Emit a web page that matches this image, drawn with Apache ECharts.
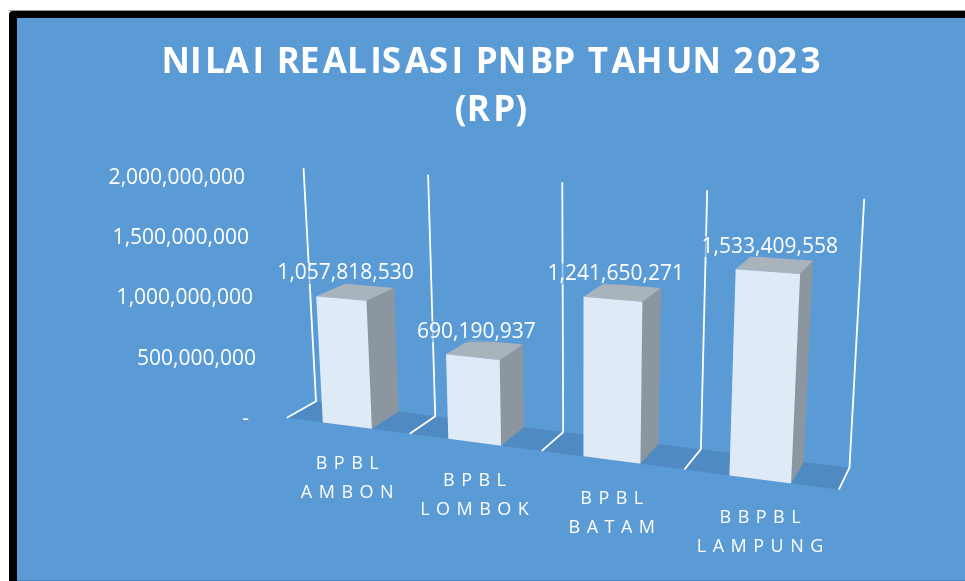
<!DOCTYPE html>
<html><head><meta charset="utf-8">
<script src="https://cdn.jsdelivr.net/npm/echarts@6/dist/echarts.min.js"></script>
<style>html,body{margin:0;padding:0;background:#fff}#c{width:965px;height:581px}</style>
</head><body><div id="c"></div>
<script>
// ---- data ----
const categories = ['BPBL\nAMBON', 'BPBL\nLOMBOK', 'BPBL\nBATAM', 'BBPBL\nLAMPUNG'];
const values = [1057818530, 690190937, 1241650271, 1533409558];
const yTicks = [0, 500000000, 1000000000, 1500000000, 2000000000];
const titleText = 'NILAI REALISASI PNBP TAHUN 2023\n(RP)';

// ---- layout / style ----
const BG = '#5B9BD5', FLOOR = '#508AC3', FRONT = '#DEEAF6', SIDE = '#8C969F', TOP = '#A9B3BC';
const FONT = '"Open Sans", "Noto Sans", sans-serif';
const GAP = 0.3; // fraction of category on each side of bar
// camera calibration of the 3D frame: [u (category boundary), t (0..1 of axis), d (0 front,1 back), x, y]
const frame = [
  [0,0,1,315.7,401.7],[1,0,1,435.7,415.7],[2,0,1,562.7,431.7],[3,0,1,701.7,450],[4,0,1,849,467.3],
  [0,1,1,303.3,168],[1,1,1,428.3,175],[2,1,1,562.7,181.7],[3,1,1,706.7,190],[4,1,1,864.3,199],
  [0,0,0,287.3,417.3],[1,0,0,409.3,434],[2,0,0,541.7,451],[3,0,0,684.3,470],[4,0,0,839,489.3]
];
function fitProjection(pts){
  const n=11, M=Array.from({length:n},()=>new Array(n).fill(0)), b=new Array(n).fill(0);
  function add(row,rhs){for(let i=0;i<n;i++){b[i]+=row[i]*rhs;for(let j=0;j<n;j++)M[i][j]+=row[i]*row[j];}}
  pts.forEach(([u,t,d,x,y])=>{
    add([u,t,d,1,0,0,0,0,-x*u,-x*t,-x*d],x);
    add([0,0,0,0,u,t,d,1,-y*u,-y*t,-y*d],y);
  });
  for(let c=0;c<n;c++){
    let p=c;for(let r=c+1;r<n;r++)if(Math.abs(M[r][c])>Math.abs(M[p][c]))p=r;
    [M[c],M[p]]=[M[p],M[c]];[b[c],b[p]]=[b[p],b[c]];
    for(let r=0;r<n;r++){if(r===c)continue;const f=M[r][c]/M[c][c];for(let k=c;k<n;k++)M[r][k]-=f*M[c][k];b[r]-=f*b[c];}
  }
  const p=b.map((v,i)=>v/M[i][i]);
  return (u,t,d)=>{const w=p[8]*u+p[9]*t+p[10]*d+1;return [(p[0]*u+p[1]*t+p[2]*d+p[3])/w,(p[4]*u+p[5]*t+p[6]*d+p[7])/w];};
}
const P = fitProjection(frame);
const fmt = v => String(Math.round(v)).replace(/\B(?=(\d{3})+(?!\d))/g, ',');
const spaced = s => s.split('\n').map(l => l.split('').join(' \u200A')).join('\n');
// light tracking: a hair space after every second character
const tracked = s => s.split('\n').map(l => l.split('').map((ch, k) => (k % 2 === 1 && k < l.length - 1) ? ch + '\u200A' : ch).join('')).join('\n');
const labelPad = [11, 4, 7, 11, 15];

function uvt(params, api, i, v){
  const cs = params.coordSys;
  const c = api.coord([i, v]), c0 = api.coord([i, 0]);
  const band = api.size([1, 0])[0];
  return {u: (c0[0] - cs.x) / band, t: (c0[1] - c[1]) / cs.height};
}
function poly(pts, fill, extra){
  return Object.assign({type:'polygon', shape:{points:pts}, style:{fill:fill}}, extra||{});
}

const chart = echarts.init(document.getElementById('c'), null, {renderer:'canvas'});
chart.setOption({
  backgroundColor: '#ffffff',
  animation: false,
  graphic: [
    {type:'rect', shape:{x:9,y:11,width:980,height:600,r:[4,0,0,0]}, style:{fill:'#000'}, z:-10, silent:true},
    {type:'rect', shape:{x:9,y:10,width:980,height:1}, style:{fill:'#9a9a9a'}, z:-10, silent:true},
    {type:'rect', shape:{x:17,y:18,width:960,height:562}, style:{fill:BG}, z:-9, silent:true},
    {type:'rect', shape:{x:17,y:580,width:960,height:1}, style:{fill:'#4a86c0'}, z:-9, silent:true}
  ],
  title: {
    text: tracked(titleText), left: 491, top: 39, textAlign: 'center', padding: 0,
    textStyle: {color:'#fff', fontSize: 35, fontWeight: 'bold', fontFamily: FONT, lineHeight: 48}
  },
  grid: {left: 268, right: 100, top: 178, bottom: 162},
  xAxis: {type:'category', data: categories, show: false},
  yAxis: {
    type:'value', min: 0, max: 2000000000, interval: 500000000,
    axisLine:{show:false}, axisTick:{show:false}, splitLine:{show:false},
    axisLabel: {
      margin: 8, align: 'right',
      formatter: v => { const k = yTicks.indexOf(v); return '{p' + k + '|' + (v === 0 ? '-' : fmt(v)) + '}'; },
      rich: Object.fromEntries(labelPad.map((p, k) => ['p' + k, {color:'#fff', fontSize:21, fontFamily:FONT, padding:[0,p,0,0]}]))
    }
  },
  series: [
    { // floor and gridlines of the 3D frame
      type:'custom', z: 1, silent: true,
      data: categories.map((c, i) => [i, 0]),
      renderItem: (params, api) => {
        const i = api.value(0);
        const {u} = uvt(params, api, i, 0);
        const a = u - 0.5, b = u + 0.5;
        const children = [
          poly([P(a,0,0), P(b,0,0), P(b,0,1), P(a,0,1)], FLOOR, {z2: 0})
        ];
        const line = k => ({type:'polyline', z2: 1, shape:{points:[P(k,1,1), P(k,0,1), P(k,0,0)]}, style:{stroke:'#fff', lineWidth:1.8, fill:null}});
        children.push(line(a));
        if (i === categories.length - 1) children.push(line(b));
        return {type:'group', children};
      }
    },
    { // 3D bars
      type:'custom', z: 2,
      data: values.map((v, i) => [i, v]),
      renderItem: (params, api) => {
        const i = api.value(0), v = api.value(1);
        const {u, t} = uvt(params, api, i, v);
        const l = u - 0.5 + GAP, r = u + 0.5 - GAP;
        const top = P(u, t, 0.15), base = P(u, 0, 0);
        return {type:'group', children:[
          poly([P(r,0,0), P(r,0,1), P(r,t,1), P(r,t,0)], SIDE),
          poly([P(l,t,0), P(r,t,0), P(r,t,1), P(l,t,1)], TOP),
          poly([P(l,0,0), P(r,0,0), P(r,t,0), P(l,t,0)], FRONT),
          {type:'text', z2: 5, style:{text: fmt(v), x: top[0], y: top[1] - 23, align:'center', verticalAlign:'middle',
            fill:'#fff', fontSize:21, fontFamily:FONT, backgroundColor:'rgba(91,155,213,0.6)', padding:[0,2]}},
          {type:'text', z2: 5, style:{text: spaced(categories[i]), x: base[0], y: base[1] + 24, align:'center', verticalAlign:'top',
            fill:'#fff', fontSize:18, fontFamily:FONT, lineHeight:29}}
        ]};
      }
    }
  ]
});
</script></body></html>
